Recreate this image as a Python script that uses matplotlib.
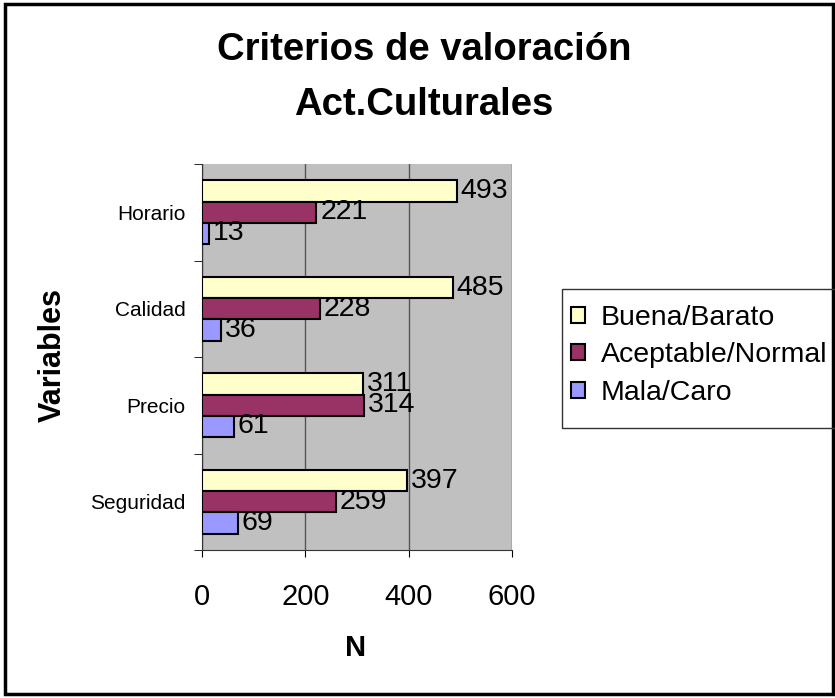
import matplotlib.pyplot as plt
import matplotlib.patches as mpatches
import numpy as np

plt.rcParams['font.family'] = ['Liberation Sans', 'DejaVu Sans']

# data
categories = ["Horario", "Calidad", "Precio", "Seguridad"]
series = ["Buena/Barato", "Aceptable/Normal", "Mala/Caro"]
buena = [493, 485, 311, 397]
aceptable = [221, 228, 314, 259]
mala = [13, 36, 61, 69]
values = [buena, aceptable, mala]

colors = ["#FFFFCC", "#993366", "#9999FF"]

W, H = 835, 698
fig = plt.figure(figsize=(W / 100, H / 100), dpi=100)

# outer chart border
fig.patches.append(mpatches.Rectangle((5 / W, 1 - 694 / H), 828 / W, 690 / H,
                                      transform=fig.transFigure, fill=False,
                                      edgecolor="black", linewidth=2.5))

ax = fig.add_axes([202 / W, 1 - 550 / H, 310 / W, 386 / H])
ax.set_facecolor("#C0C0C0")

n = len(categories)
y = np.arange(n)[::-1]  # Horario at top
bar_h = 0.22
for i, (vals, name) in enumerate(zip(values, series)):
    pos = y + (1 - i) * bar_h
    bars = ax.barh(pos, vals, height=bar_h, color=colors[i], edgecolor="black",
                   linewidth=1.5, label=name, zorder=3)
    for b, v in zip(bars, vals):
        ax.text(v + 8, b.get_y() + b.get_height() / 2, str(v), va="center",
                ha="left", fontsize=20.5, zorder=4)

ax.set_xlim(0, 600)
ax.set_ylim(-0.5, n - 0.5)
ax.set_xticks([0, 200, 400, 600])
ax.tick_params(axis="x", labelsize=21, length=5, direction="out", pad=19)
ax.xaxis.grid(True, color="#555555", linewidth=1, zorder=0)

ax.set_yticks(y)
ax.set_yticklabels(categories, fontsize=15)
ax.tick_params(axis="y", length=0, pad=12)
ax.set_yticks(np.arange(n + 1) - 0.5, minor=True)
ax.tick_params(axis="y", which="minor", length=6, direction="out")

for s in ["top", "right"]:
    ax.spines[s].set_visible(False)
ax.spines["left"].set_color("#333333")
ax.spines["bottom"].set_color("#333333")

# axis titles
fig.text(356 / W, 1 - 648 / H, "N", ha="center", va="center",
         fontsize=21, fontweight="bold")
fig.text(53 / W, 1 - 355 / H, "Variables", ha="center", va="center",
         rotation=90, fontsize=22, fontweight="bold")

fig.text(424 / W, 1 - 60 / H, "Criterios de valoración", ha="center",
         va="baseline", fontsize=27.5, fontweight="bold")
fig.text(424 / W, 1 - 115 / H, "Act.Culturales", ha="center",
         va="baseline", fontsize=27.5, fontweight="bold")

# legend box (Excel style, drawn separately)
fig.patches.append(mpatches.Rectangle((562 / W, 1 - 428 / H), 275 / W, 139 / H,
                                      transform=fig.transFigure, fill=False,
                                      edgecolor="#333333", linewidth=1))
fig.legend(loc="upper left", bbox_to_anchor=(571 / W, 1 - 305 / H),
           fontsize=20.5, frameon=False, handlelength=0.5,
           handleheight=0.5, handletextpad=0.55, borderpad=0,
           labelspacing=0.4, borderaxespad=0)

fig.savefig("out.png", dpi=100)
